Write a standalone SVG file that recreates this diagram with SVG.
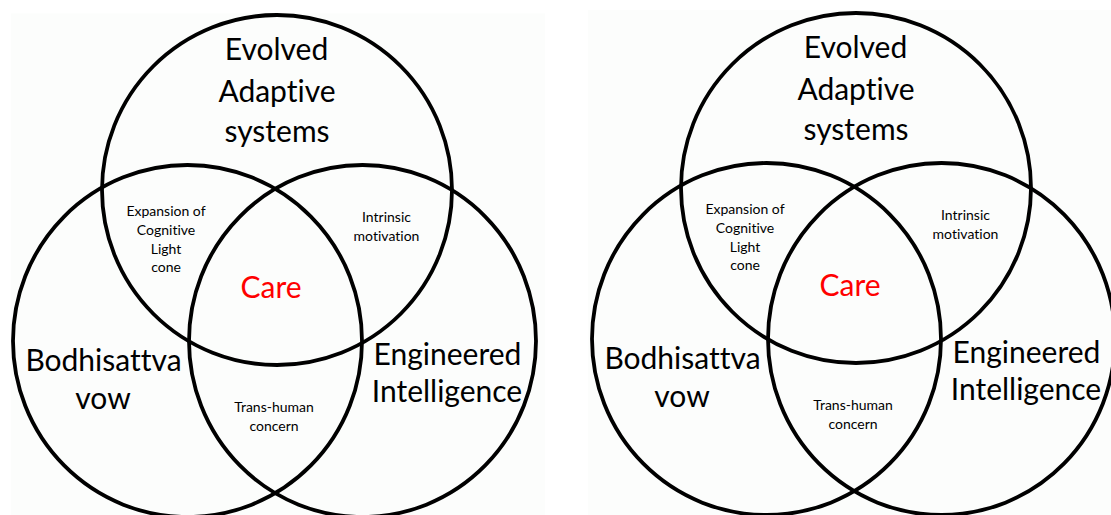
<svg xmlns="http://www.w3.org/2000/svg" width="1111" height="515" viewBox="0 0 1111 515">
<style>
.bg{fill:#fcfdfc;stroke:none}
.ring{fill:none;stroke:#000;stroke-width:3.8}
text{font-family:Lato,"Open Sans","Liberation Sans",sans-serif;text-anchor:middle;font-variant-ligatures:none;font-feature-settings:"liga" 0,"dlig" 0}
.big{font-size:30px;fill:#000}
.small{font-size:14px;fill:#000}
.care{font-size:30px;fill:#ff0000}
</style>
<rect width="1111" height="515" fill="#ffffff"/>
<rect class="bg" x="11" y="13.5" width="534" height="502"/>
<rect class="bg" x="588" y="10" width="523" height="505"/>

<g id="venn-left">
  <g id="L-evolved">
    <ellipse class="ring" cx="277" cy="190" rx="175" ry="175"/>
    <text class="big" x="276.5" y="60">Evolved</text>
    <text class="big" x="277" y="101.5">Adaptive</text>
    <text class="big" x="277" y="141.5">systems</text>
  </g>
  <g id="L-bodhisattva">
    <ellipse class="ring" cx="187.5" cy="341" rx="174.5" ry="176"/>
    <text class="big" x="103.5" y="371">Bodhisattva</text>
    <text class="big" x="103" y="409">vow</text>
  </g>
  <g id="L-engineered">
    <ellipse class="ring" cx="362.5" cy="341" rx="173.5" ry="176"/>
    <text class="big" x="447.5" y="365">Engineered</text>
    <text class="big" x="447" y="401.5">Intelligence</text>
  </g>
  <g id="L-expansion">
    <text class="small" x="166" y="216">Expansion of</text>
    <text class="small" x="166" y="235">Cognitive</text>
    <text class="small" x="166" y="253.5">Light</text>
    <text class="small" x="166" y="272">cone</text>
  </g>
  <g id="L-intrinsic">
    <text class="small" x="386.5" y="221.5">Intrinsic</text>
    <text class="small" x="386.5" y="240.5">motivation</text>
  </g>
  <g id="L-transhuman">
    <text class="small" x="274" y="412">Trans-human</text>
    <text class="small" x="274" y="430.5">concern</text>
  </g>
  <g id="L-care">
    <text class="care" x="271" y="298.3">Care</text>
  </g>
</g>

<g id="venn-right" transform="translate(579,-2)">
  <g id="R-evolved">
    <ellipse class="ring" cx="277" cy="190" rx="175" ry="175"/>
    <text class="big" x="276.5" y="60">Evolved</text>
    <text class="big" x="277" y="101.5">Adaptive</text>
    <text class="big" x="277" y="141.5">systems</text>
  </g>
  <g id="R-bodhisattva">
    <ellipse class="ring" cx="187.5" cy="341" rx="174.5" ry="176"/>
    <text class="big" x="103.5" y="371">Bodhisattva</text>
    <text class="big" x="103" y="409">vow</text>
  </g>
  <g id="R-engineered">
    <ellipse class="ring" cx="362.5" cy="341" rx="173.5" ry="176"/>
    <text class="big" x="447.5" y="365">Engineered</text>
    <text class="big" x="447" y="401.5">Intelligence</text>
  </g>
  <g id="R-expansion">
    <text class="small" x="166" y="216">Expansion of</text>
    <text class="small" x="166" y="235">Cognitive</text>
    <text class="small" x="166" y="253.5">Light</text>
    <text class="small" x="166" y="272">cone</text>
  </g>
  <g id="R-intrinsic">
    <text class="small" x="386.5" y="221.5">Intrinsic</text>
    <text class="small" x="386.5" y="240.5">motivation</text>
  </g>
  <g id="R-transhuman">
    <text class="small" x="274" y="412">Trans-human</text>
    <text class="small" x="274" y="430.5">concern</text>
  </g>
  <g id="R-care">
    <text class="care" x="271" y="298.3">Care</text>
  </g>
</g>
</svg>
